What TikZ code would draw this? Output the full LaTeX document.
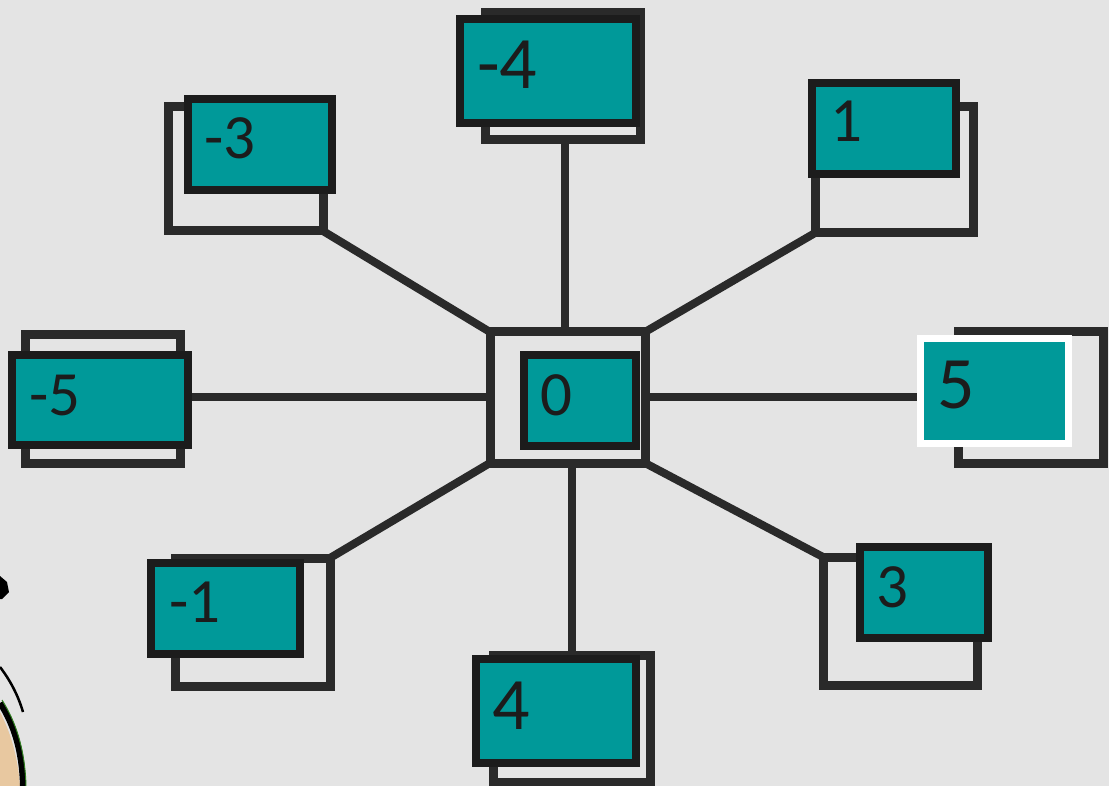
\documentclass[tikz,border=0pt]{standalone}
\usepackage{fontspec}
\setmainfont{Carlito}
\definecolor{paper}{HTML}{E4E4E4}
\definecolor{ink}{HTML}{2A2A2A}
\definecolor{teal0}{HTML}{009999}
\definecolor{bord}{HTML}{1C1C1C}
\definecolor{skin}{HTML}{E8C8A0}
\definecolor{leaf}{HTML}{2E7D1E}
\tikzset{
  obox/.style={draw=ink, line width=9pt, minimum width=#1, inner sep=0pt, outer sep=0pt},
  tbox/.style={draw=bord, fill=teal0, line width=8pt, inner sep=0pt, outer sep=0pt},
  wbox/.style={draw=white, fill=teal0, line width=7pt, inner sep=0pt, outer sep=0pt},
  conn/.style={draw=ink, line width=8pt},
  lab/.style={anchor=base west, inner sep=0pt, outer sep=0pt, text=bord},
}
\begin{document}
\begin{tikzpicture}[x=1pt,y=-1pt]
\useasboundingbox (0,0) rectangle (1109,786);
\fill[paper] (0,0) rectangle (1109,786);
% clip-art fragment at the lower left
\fill[skin] (0,712) .. controls (12,735) and (18,760) .. (20,786) -- (0,786) -- cycle;
\draw[black, line width=6pt] (0,703) .. controls (14,725) and (22,750) .. (23,786);
\draw[leaf, line width=1pt] (2,700) .. controls (16,722) and (25,750) .. (26,786);
\draw[black, line width=2.5pt] (0,667) .. controls (10,680) and (18,695) .. (23,712);
\fill[black] (0,576) -- (7,582) -- (9,592) -- (2,599) -- (0,599) -- cycle;
% outline boxes (the drawing underneath)
\node[obox=155pt, minimum height=127pt] (om4) at (563,76.5) {};
\node[obox=155pt, minimum height=124pt] (om3) at (245.5,169) {};
\node[obox=158pt, minimum height=126pt] (o1) at (894,170) {};
\node[obox=155pt, minimum height=128pt] (om5) at (102.5,399) {};
\node[obox=145pt, minimum height=131pt] (o5) at (1030.5,397.5) {};
\node[obox=155pt, minimum height=128pt] (om1) at (252.5,622) {};
\node[obox=154pt, minimum height=128pt] (o3) at (900,621) {};
\node[obox=157pt, minimum height=127pt] (o4) at (571.5,718.5) {};
\node[obox=155pt, minimum height=131pt] (oc) at (567.5,397.5) {};
% connectors
\coordinate (cT) at (565,332);
\coordinate (cB) at (572,463);
\draw[conn] (om4.south -| cT) -- (cT);
\draw[conn] (om3.south east) -- (oc.north west);
\draw[conn] (o1.south west) -- (oc.north east);
\draw[conn] (om5.east |- oc.west) -- (oc.west);
\draw[conn] (oc.east) -- (o5.west |- oc.east);
\draw[conn] (om1.north east) -- (oc.south west);
\draw[conn] (o4.north -| cB) -- (cB);
\draw[conn] (oc.south east) -- (o3.north west);
% teal label boxes
\node[tbox, minimum width=176pt, minimum height=104pt] (tm4) at (548,71) {};
\node[tbox, minimum width=144pt, minimum height=91pt] (tm3) at (260,144.5) {};
\node[tbox, minimum width=144pt, minimum height=91pt] (t1) at (884,128.5) {};
\node[tbox, minimum width=176pt, minimum height=90pt] (tm5) at (100,400) {};
\node[tbox, minimum width=112pt, minimum height=91pt] (t0) at (580,400.5) {};
\node[wbox, minimum width=148pt, minimum height=105pt] (t5) at (994.5,391) {};
\node[tbox, minimum width=149pt, minimum height=91pt] (tm1) at (225.5,608.5) {};
\node[tbox, minimum width=128pt, minimum height=91pt] (t3) at (924,592.5) {};
\node[tbox, minimum width=160pt, minimum height=104pt] (t4) at (556,711) {};
% labels
\node[lab, font=\fontsize{74}{74}\selectfont] at (477,89) {-4};
\node[lab, font=\fontsize{63}{63}\selectfont] at (204,159) {-3};
\node[lab, font=\fontsize{63}{63}\selectfont] at (830,142) {1};
\node[lab, font=\fontsize{63}{63}\selectfont] at (29,415) {-5};
\node[lab, font=\fontsize{63}{63}\selectfont] at (540,415) {0};
\node[lab, font=\fontsize{74}{74}\selectfont] at (937,409) {5};
\node[lab, font=\fontsize{63}{63}\selectfont] at (169,622) {-1};
\node[lab, font=\fontsize{63}{63}\selectfont] at (876,607) {3};
\node[lab, font=\fontsize{74}{74}\selectfont] at (492,729) {4};
\end{tikzpicture}
\end{document}
